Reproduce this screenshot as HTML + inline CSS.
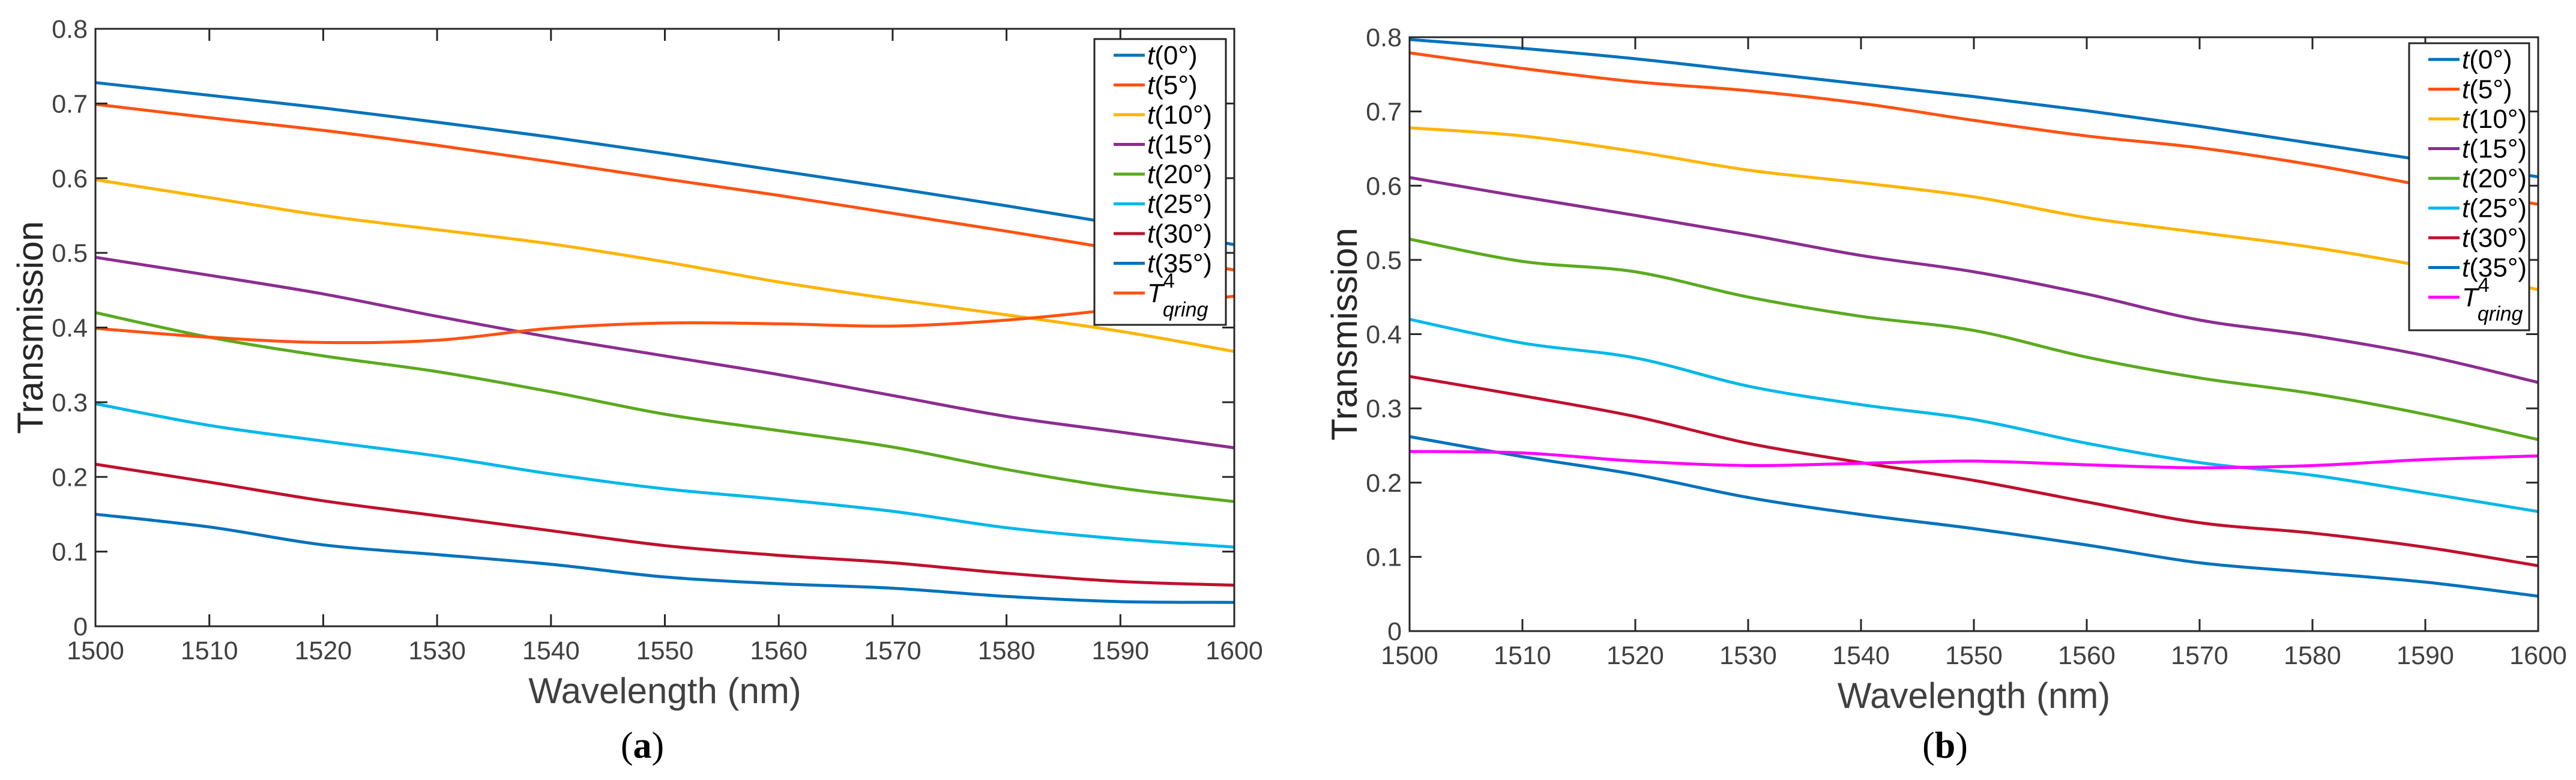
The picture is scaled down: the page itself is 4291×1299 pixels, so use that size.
<!DOCTYPE html>
<html><head><meta charset="utf-8"><style>
html,body{margin:0;padding:0;background:#fff}
svg{display:block}
text{font-family:"Liberation Sans",sans-serif}
</style></head><body>
<svg id="fig" width="4291" height="1299" viewBox="0 0 4291 1299" xmlns="http://www.w3.org/2000/svg"></svg>
<script>
const wavelengths = [1500,1510,1520,1530,1540,1550,1560,1570,1580,1590,1600];
const xTicks = [1500,1510,1520,1530,1540,1550,1560,1570,1580,1590,1600];
const yTicks = [0,0.1,0.2,0.3,0.4,0.5,0.6,0.7,0.8];
const yTickLabels = ["0","0.1","0.2","0.3","0.4","0.5","0.6","0.7","0.8"];
const seriesNames = ["t(0°)","t(5°)","t(10°)","t(15°)","t(20°)","t(25°)","t(30°)","t(35°)","Tqring"];

const a_t0  = [.728,.711,.694,.675,.655,.633,.610,.587,.563,.538,.511];
const a_t5  = [.699,.681,.664,.644,.622,.599,.577,.553,.529,.504,.477];
const a_t10 = [.598,.574,.550,.531,.512,.488,.461,.438,.417,.395,.368];
const a_t15 = [.494,.470,.445,.415,.387,.362,.337,.309,.281,.260,.239];
const a_t20 = [.420,.387,.362,.341,.314,.284,.262,.240,.210,.185,.167];
const a_t25 = [.298,.269,.248,.228,.204,.184,.170,.154,.132,.117,.106];
const a_t30 = [.217,.193,.168,.148,.128,.108,.095,.085,.071,.060,.055];
const a_t35 = [.150,.133,.109,.096,.083,.066,.057,.051,.040,.033,.032];
const a_tq  = [.399,.387,.380,.383,.399,.406,.405,.402,.410,.425,.442];

const b_t0  = [.797,.785,.771,.754,.737,.720,.701,.680,.657,.634,.612];
const b_t5  = [.779,.758,.740,.728,.711,.688,.667,.651,.628,.600,.575];
const b_t10 = [.678,.667,.646,.621,.604,.585,.557,.537,.517,.491,.460];
const b_t15 = [.611,.585,.560,.534,.506,.484,.454,.419,.398,.371,.335];
const b_t20 = [.528,.498,.484,.450,.424,.405,.369,.341,.320,.292,.258];
const b_t25 = [.420,.388,.368,.330,.305,.285,.253,.227,.210,.186,.161];
const b_t30 = [.343,.317,.289,.253,.227,.203,.174,.146,.132,.113,.088];
const b_t35 = [.262,.235,.211,.180,.157,.138,.116,.092,.079,.066,.047];
const b_tq  = [.242,.240,.229,.223,.226,.229,.224,.220,.223,.231,.236];

const colorsA = ["#0072BD","#FF5212","#FFB400","#8C2D91","#5AAA1E","#00B8EA","#C0102E","#0072BD","#FF5212"];
const colorsB = ["#0072BD","#FF5212","#FFB400","#8C2D91","#5AAA1E","#00B8EA","#C0102E","#0072BD","#FF00FF"];

const NS = "http://www.w3.org/2000/svg";
const svg = document.getElementById('fig');
function el(tag, attrs, parent){
  const e = document.createElementNS(NS, tag);
  for (const k in attrs) e.setAttribute(k, attrs[k]);
  (parent||svg).appendChild(e);
  return e;
}

function panel(id, box, series, colors, caption, capX, leg){
  const g = el('g', {});
  
  
  const xs = v => box.l + (v - 1500) / 100 * (box.r - box.l);
  const ys = v => box.b - v / 0.8 * (box.b - box.t);
  series.forEach((data, i) => {
    const pts = data.map((v, j) => [xs(wavelengths[j]), ys(v)]);
    let d = 'M' + pts[0][0] + ',' + pts[0][1];
    for (let k = 0; k < pts.length - 1; k++) {
      const p0 = pts[Math.max(0, k - 1)], p1 = pts[k], p2 = pts[k + 1], p3 = pts[Math.min(pts.length - 1, k + 2)];
      const c1x = p1[0] + (p2[0] - p0[0]) / 6, c1y = p1[1] + (p2[1] - p0[1]) / 6;
      const c2x = p2[0] - (p3[0] - p1[0]) / 6, c2y = p2[1] - (p3[1] - p1[1]) / 6;
      d += ' C' + c1x + ',' + c1y + ' ' + c2x + ',' + c2y + ' ' + p2[0] + ',' + p2[1];
    }
    const path = el('path', {d: d, fill: 'none', stroke: colors[i], 'stroke-width': 5}, g);
    
    
  });
  const frame = el('rect', {x: box.l, y: box.t, width: box.r - box.l, height: box.b - box.t, fill: 'none', stroke: '#262626', 'stroke-width': 3}, g);
  
  
  xTicks.forEach(v => {
    const x = xs(v);
    el('line', {x1: x, y1: box.b, x2: x, y2: box.b - 20, stroke: '#262626', 'stroke-width': 3}, g);
    el('line', {x1: x, y1: box.t, x2: x, y2: box.t + 20, stroke: '#262626', 'stroke-width': 3}, g);
    const t = el('text', {x: x, y: box.b + 55, 'font-size': 43, fill: '#404040', 'text-anchor': 'middle'}, g);
    t.textContent = v;
    
    
  });
  yTicks.forEach((v, i) => {
    const y = ys(v);
    el('line', {x1: box.l, y1: y, x2: box.l + 20, y2: y, stroke: '#262626', 'stroke-width': 3}, g);
    el('line', {x1: box.r, y1: y, x2: box.r - 20, y2: y, stroke: '#262626', 'stroke-width': 3}, g);
    const t = el('text', {x: box.l - 13, y: y + 15, 'font-size': 43, fill: '#404040', 'text-anchor': 'end'}, g);
    t.textContent = yTickLabels[i];
    
    
  });
  const xt = el('text', {x: (box.l + box.r) / 2, y: box.b + 128, 'font-size': 60, fill: '#404040', 'text-anchor': 'middle'}, g);
  xt.textContent = 'Wavelength (nm)';
  
  
  const cy = (box.t + box.b) / 2;
  const yt = el('text', {x: 0, y: 0, 'font-size': 60, fill: '#262626', 'text-anchor': 'middle', transform: 'translate(' + (box.l - 88) + ',' + cy + ') rotate(-90)'}, g);
  yt.textContent = 'Transmission';
  
  
  const cap = el('text', {x: capX, y: 1262, 'font-size': 62, fill: '#000', 'text-anchor': 'middle', style: 'font-family:"Liberation Serif",serif'}, g);
  cap.innerHTML = '(<tspan font-weight="bold">' + caption + '</tspan>)';
  
  
  const lg = el('g', {}, g);
  
  
  el('rect', {x: leg.x, y: leg.y, width: leg.w, height: leg.h, fill: '#fff', stroke: '#262626', 'stroke-width': 3}, lg);
  seriesNames.forEach((name, i) => {
    const y = leg.y + 27 + i * leg.step;
    const e = el('g', {}, lg);
    
    
    el('line', {x1: leg.x + 32, y1: y, x2: leg.x + 84, y2: y, stroke: colors[i], 'stroke-width': 5}, e);
    const t = el('text', {x: leg.x + 88, y: y + 15, 'font-size': 44, fill: '#000'}, e);
    if (i < 8) {
      t.innerHTML = '<tspan font-style="italic">t</tspan>' + name.slice(1);
    } else {
      t.innerHTML = '<tspan font-style="italic">T</tspan><tspan font-size="34" dy="-24">4</tspan><tspan font-style="italic" font-size="34" dx="-20" dy="48">qring</tspan>';
    }
  });
}

panel('a', {l:159, r:2056, t:48, b:1043},
  [a_t0,a_t5,a_t10,a_t15,a_t20,a_t25,a_t30,a_t35,a_tq], colorsA, 'a', 1070,
  {x:1823, y:65, w:219, h:476, step:49.5});
panel('b', {l:2348, r:4228, t:62, b:1051},
  [b_t0,b_t5,b_t10,b_t15,b_t20,b_t25,b_t30,b_t35,b_tq], colorsB, 'b', 3240,
  {x:4013, y:72, w:200, h:478, step:49.5});
</script>
</body></html>
